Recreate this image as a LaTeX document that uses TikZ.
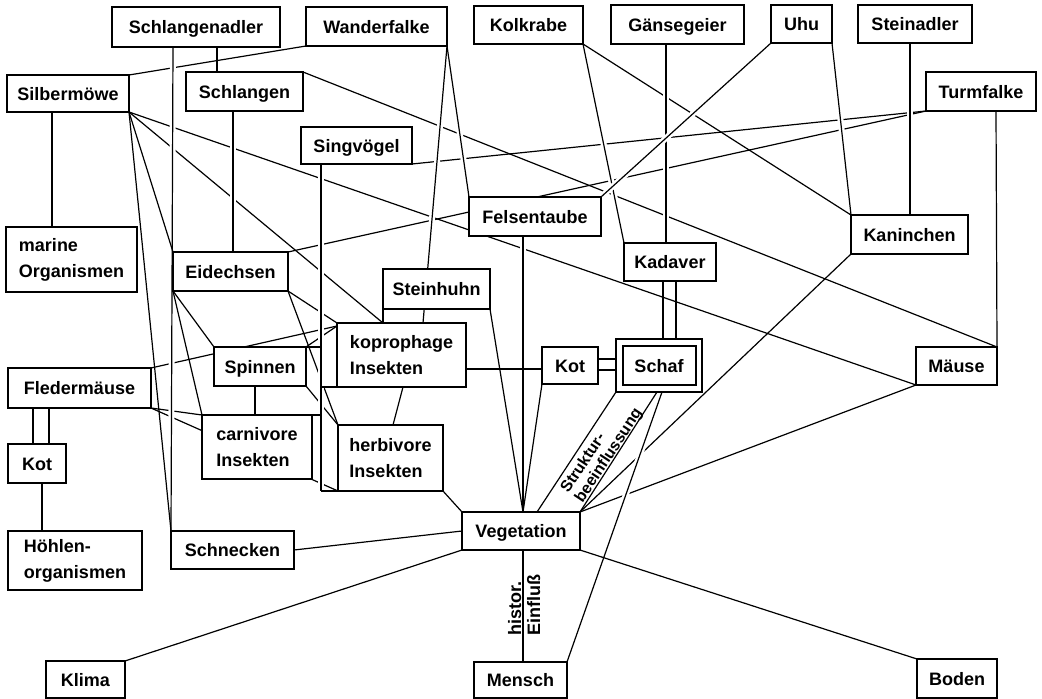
\documentclass[tikz,border=0pt]{standalone}
\usepackage{fontspec}
\setmainfont{Liberation Sans}
\usetikzlibrary{backgrounds}
\newcommand\bx[7][]{\node[box,#1,minimum width={(#4-#2)*1pt},minimum height={(#5-#3)*1pt}] (#6) at ({(#2+#4)/2},{(#3+#5)/2}) {#7};}
\begin{document}
\begin{tikzpicture}[x=1pt,y=-1pt,
  box/.style={draw,line width=1.3pt,fill=white,inner sep=1pt,outer sep=0pt,align=left,
    text height=13pt,text depth=0pt,font=\fontsize{18}{26}\selectfont\bfseries},
  two/.style={text height=,text depth=},
  ln/.style={line width=1.2pt},
  top/.style 2 args={preaction={draw=white,line width=6pt,shorten <=#1,shorten >=#2}},
  lbl/.style={inner sep=0pt,font=\fontsize{18}{19}\selectfont\bfseries}]
\useasboundingbox (0,0) rectangle (1042,699);

\bx{112}{7}{280}{47}{SchlAdl}{Schlangenadler}
\bx{306}{7}{447}{46}{Wanderfalke}{Wanderfalke}
\bx{474}{6}{583}{44}{Kolkrabe}{Kolkrabe}
\bx{611}{5}{744}{44}{Gaensegeier}{Gänsegeier}
\bx{771}{5}{832}{43}{Uhu}{Uhu}
\bx{858}{5}{972}{43}{Steinadler}{Steinadler}
\bx{926}{72}{1036}{111}{Turmfalke}{Turmfalke}
\bx{7}{75}{129}{112}{Silbermoewe}{Silbermöwe}
\bx{186}{72}{303}{111}{Schlangen}{Schlangen}
\bx{301}{127}{412}{164}{Singvoegel}{Singvögel}
\bx{469}{197}{601}{236}{Felsentaube}{Felsentaube}
\bx{624}{243}{716}{281}{Kadaver}{Kadaver}
\bx{851}{215}{968}{254}{Kaninchen}{Kaninchen}
\bx[two]{6}{227}{137}{292}{marine}{marine\\Organismen}
\bx{173}{252}{288}{291}{Eidechsen}{Eidechsen}
\bx{383}{269}{490}{309}{Steinhuhn}{Steinhuhn}
\bx[two]{337}{323}{466}{387}{koprophage}{koprophage\\Insekten}
\bx{214}{347}{306}{386}{Spinnen}{Spinnen}
\bx{8}{368}{151}{408}{Fledermaeuse}{Fledermäuse}
\bx[two]{202}{415}{312}{479}{carnivore}{carnivore\\Insekten}
\bx[two]{338}{425}{443}{491}{herbivore}{herbivore\\Insekten}
\bx{542}{347}{598}{384}{KotM}{Kot}
\bx{616}{339}{702}{392}{Schaf}{Schaf}
\bx{916}{347}{997}{385}{Maeuse}{Mäuse}
\bx{8}{444}{66}{483}{KotL}{Kot}
\bx[two]{8}{531}{142}{590}{Hoehlen}{Höhlen-\\organismen}
\bx{171}{531}{294}{569}{Schnecken}{Schnecken}
\bx{462}{512}{580}{550}{Vegetation}{Vegetation}
\bx{46}{661}{125}{698}{Klima}{Klima}
\bx{474}{662}{567}{698}{Mensch}{Mensch}
\bx{917}{659}{997}{698}{Boden}{Boden}
\draw[line width=1.3pt] ([shift={(7pt,-7pt)}]Schaf.north west) rectangle ([shift={(-6pt,7pt)}]Schaf.south east);

\coordinate (bus) at ([xshift=20pt]Singvoegel.south west);
\coordinate (vtop) at ([xshift=61pt]Vegetation.north west);
\coordinate (kk) at ([yshift=-46pt]koprophage.north east);
\coordinate (ks1) at ([yshift=-12pt]KotM.north east);
\coordinate (ks2) at ([yshift=-23pt]KotM.north east);
\coordinate (kd1) at ([xshift=39pt]Kadaver.south west);
\coordinate (kd2) at ([xshift=52pt]Kadaver.south west);
\coordinate (kopNW) at ([yshift=-3pt]koprophage.north west);

\begin{scope}[on background layer={ln}]
\fill[white] (0,0) rectangle (1042,699);
% lines that are interrupted at crossings
\draw (Silbermoewe.south east) -- (Maeuse.south west);
\draw (Schlangen.north east) -- (Maeuse.north east);
\draw (Turmfalke.south west) -- (Singvoegel.south east);
\draw (Turmfalke.south west) -- (Eidechsen.north east);
\draw (Silbermoewe.south east) -- ([xshift=46pt]koprophage.north west);
\draw (Fledermaeuse.north east) -- (kopNW);
\draw (Fledermaeuse.south east) -- (herbivore.south west);
\draw (Eidechsen.south east) -- (herbivore.north west);
\draw (Eidechsen.south east) -- (koprophage.north west);
\draw (Maeuse.south west) -- (Vegetation.north east);
\draw (Kaninchen.south west) -- (Vegetation.north east);
\draw (Kolkrabe.south east) -- (Kaninchen.north west);
\draw (Wanderfalke.south west) -- (Silbermoewe.north east);
\draw (Spinnen.north east) -- (kopNW);
\draw (Spinnen.south east) -- (herbivore.north west);
\draw (Fledermaeuse.south east) -- (carnivore.north west);
\draw (Silbermoewe.south east) -- (Schnecken.north west);
% lines drawn over them
\draw[top={5pt}{40pt}] ([xshift=61pt]SchlAdl.south west) -- (Schnecken.north west);
\draw[top={5pt}{5pt}] ([xshift=47pt]Schlangen.south west) -- ([xshift=60pt]Eidechsen.north west);
\draw[top={5pt}{5pt}] (bus) -- (bus |- herbivore.south west);
\draw[top={20pt}{5pt}] (Wanderfalke.south east) -- ([xshift=86pt]koprophage.north west);
\draw[top={20pt}{5pt}] (Wanderfalke.south east) -- (Felsentaube.north west);
\draw[top={15pt}{5pt}] (Kolkrabe.south east) -- (Kadaver.north west);
\draw[top={5pt}{5pt}] ([xshift=55pt]Gaensegeier.south west) -- ([xshift=42pt]Kadaver.north west);
\draw[top={5pt}{5pt}] (Uhu.south west) -- (Felsentaube.north east);
\draw[top={5pt}{15pt}] (Uhu.south east) -- (Kaninchen.north west);
\draw[top={5pt}{5pt}] ([xshift=52pt]Steinadler.south west) -- ([xshift=59pt]Kaninchen.north west);
\draw[top={5pt}{40pt}] ([xshift=54pt]Felsentaube.south west) -- (vtop);
\draw[top={5pt}{40pt}] (Steinhuhn.south east) -- (vtop);
\draw[top={5pt}{40pt}] (KotM.south west) -- (vtop);
\draw[top={5pt}{5pt}] (Mensch.north east) -- ([xshift=46pt]Schaf.south west);
% remaining lines
\draw ([xshift=105pt]SchlAdl.south west) -- ([xshift=31pt]Schlangen.north west);
\draw ([xshift=70pt]Turmfalke.south west) -- (Maeuse.north east);
\draw ([xshift=45pt]Silbermoewe.south west) -- ([xshift=46pt]marine.north west);
\draw (Silbermoewe.south east) -- (Eidechsen.north west);
\draw (bus |- herbivore.south west) -- (herbivore.south west);
\draw (Spinnen.north east) -- (Spinnen.north east -| bus);
\draw (koprophage.south west) -- (koprophage.south west -| bus);
\draw (carnivore.north east) -- (carnivore.north east -| bus);
\draw (Steinhuhn.south west) -- ([xshift=46pt]koprophage.north west);
\draw (Eidechsen.south west) -- (Spinnen.north west);
\draw (Eidechsen.south west) -- (carnivore.north west);
\draw ([xshift=41pt]Spinnen.south west) -- ([xshift=53pt]carnivore.north west);
\draw ([xshift=25pt]Fledermaeuse.south west) -- ([xshift=25pt]KotL.north west);
\draw ([xshift=41pt]Fledermaeuse.south west) -- ([xshift=41pt]KotL.north west);
\draw ([xshift=34pt]KotL.south west) -- ([xshift=34pt]Hoehlen.north west);
\draw (kk) -- (kk -| KotM.west);
\draw ([xshift=66pt]koprophage.south west) -- ([xshift=55pt]herbivore.north west);
\draw (ks1) -- (ks1 -| Schaf.west);
\draw (ks2) -- (ks2 -| Schaf.west);
\draw (kd1) -- (kd1 |- Schaf.north);
\draw (kd2) -- (kd2 |- Schaf.north);
\draw (herbivore.south east) -- (Vegetation.north west);
\draw (Schnecken.east) -- (Vegetation.west);
\draw (Klima.north east) -- (Vegetation.south west);
\draw (Boden.north west) -- (Vegetation.south east);
\draw ([xshift=49pt]Mensch.north west) -- ([xshift=61pt]Vegetation.south west);
\draw (Schaf.south west) -- ([xshift=75pt]Vegetation.north west);
\draw ([xshift=41pt]Schaf.south west) -- (Vegetation.north east);
\end{scope}

\node[lbl, rotate=90, anchor=base west] (hist) at (521,636) {histor.};
\node[lbl, rotate=90, anchor=north west] (einf) at (527,636) {Einfluß};
\node[lbl, rotate=56.6, align=left, font=\fontsize{16}{17}\selectfont\bfseries] (strukt) at (602,451) {Struktur-\\beeinflussung};
\end{tikzpicture}
\end{document}
